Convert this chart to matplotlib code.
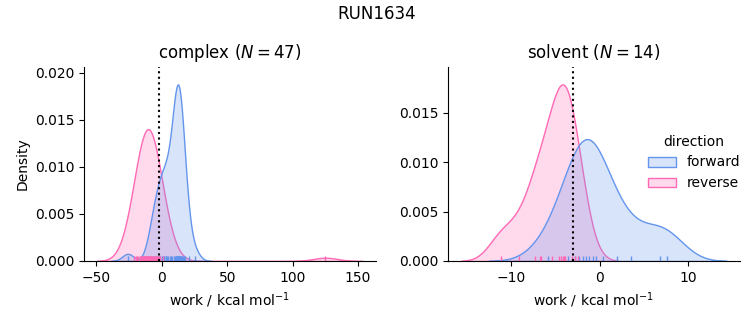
import numpy as np
import pandas as pd
import matplotlib
matplotlib.use("Agg")
import matplotlib.pyplot as plt
from matplotlib.ticker import MaxNLocator
import seaborn as sns

# complex phase work values (kcal/mol)
complex_forward = [-26, -9, -7, -6, -5, -4, -3, -2, -1, 0, 1, 1.5, 2, 3, 3.5,
                   4, 5, 6, 7, 8, 9, 10, 10.5, 11, 11.5, 11.5, 12, 12, 12, 12.5,
                   12.5, 12.5, 13, 13, 13, 13.5, 13.5, 17, 14, 14, 14.5, 15,
                   15.5, 16, 18, 20.5, 25]
complex_reverse = [-21, -20, -19, -18, -17, -16.5, -16, -15.5, -15, -14.5, -14,
                   -13.5, -13, -13, -12.5, -12.5, -12, -12, -11.5, -11.5, -11,
                   -11, -10.5, -10.5, -10, -10, -10, -9.5, -9, -9, -8.5, -8, -8,
                   -7.5, -7, -6.5, -6, -5.5, -5, -4.5, -4, -3.5, -3, -2, -1, 1, 125]
# solvent phase work values (kcal/mol)
solvent_forward = [-5.8, -3.6, -2.8, -2.3, -1.9, -1.5, -1.2, -0.8, -0.4, 0.4,
                   2.0, 3.6, 6.8, 7.6]
solvent_reverse = [-11.2, -9.1, -7.3, -6.8, -6.6, -5.4, -4.65, -4.4, -4.2,
                   -4.0, -3.9, -3.1, -2.8, -2.4]
# free energy estimates (dotted lines)
complex_dg = -2.5
solvent_dg = -3.0

phases = ["complex", "solvent"]
directions = ["forward", "reverse"]
colors = {"forward": "cornflowerblue", "reverse": "hotpink"}

rows = []
for phase, fwd, rev in [("complex", complex_forward, complex_reverse),
                        ("solvent", solvent_forward, solvent_reverse)]:
    for v in fwd:
        rows.append((phase, "forward", v))
    for v in rev:
        rows.append((phase, "reverse", v))
df = pd.DataFrame(rows, columns=["phase", "direction", "work"])

g = sns.displot(df, x="work", hue="direction", col="phase", kind="kde",
                fill=True, rug=True, palette=colors, col_order=phases,
                hue_order=directions,
                facet_kws=dict(sharex=False, sharey=False), height=3, aspect=1.2)

fig = g.figure
fig.set_size_inches(7.53, 3.25)
ax1, ax2 = g.axes[0]
ax1.set_position([84 / 753, 1 - 261 / 325, 291.7 / 753, (261 - 66.7) / 325])
ax2.set_position([448 / 753, 1 - 261 / 325, 291.7 / 753, (261 - 66.7) / 325])

ax1.axvline(complex_dg, color="black", linestyle=":", linewidth=1.5)
ax2.axvline(solvent_dg, color="black", linestyle=":", linewidth=1.5)
ax1.set_title("complex ($N=%d$)" % len(complex_forward), fontsize=12)
ax2.set_title("solvent ($N=%d$)" % len(solvent_forward), fontsize=12)
for ax in (ax1, ax2):
    ax.set_xlabel("work / kcal mol$^{-1}$")
    ax.xaxis.set_major_locator(MaxNLocator(nbins=5, steps=[1, 2, 2.5, 5, 10]))
ax1.set_ylabel("Density")
ax2.set_ylabel("")
fig.suptitle("RUN1634", fontsize=12, y=0.985)
sns.move_legend(g, "center right", bbox_to_anchor=(1.0, 0.5), frameon=False)

fig.savefig("out.png", dpi=100)
